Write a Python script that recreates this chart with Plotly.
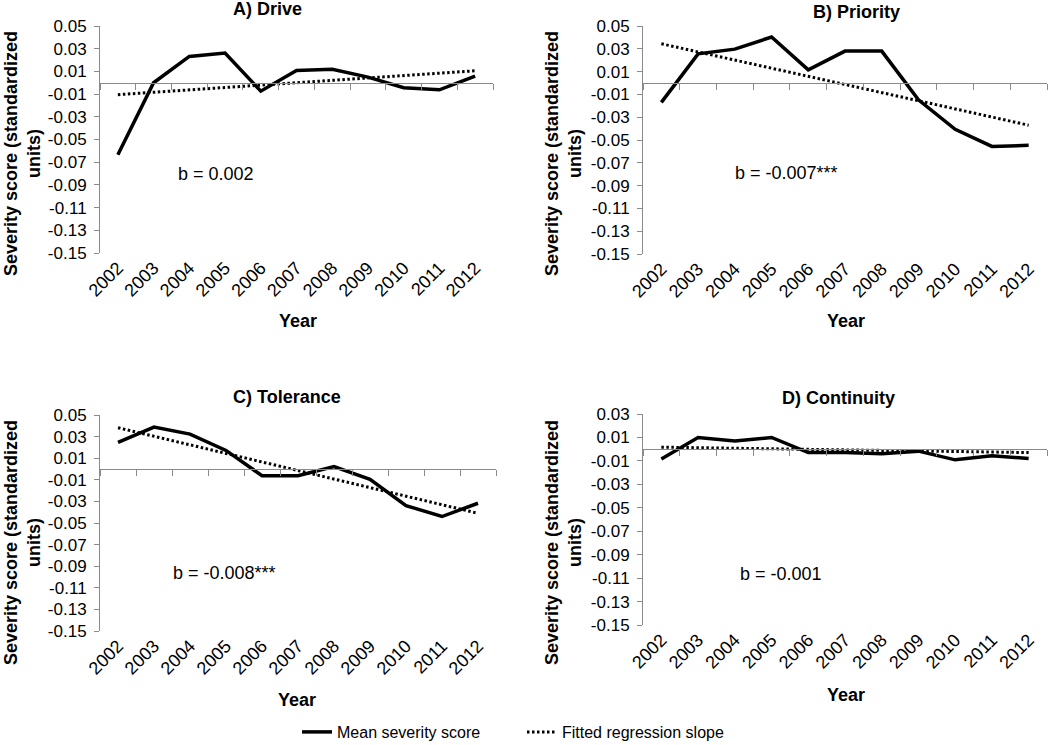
import plotly.graph_objects as go

W, H = 1050, 745

years = [2002, 2003, 2004, 2005, 2006, 2007, 2008, 2009, 2010, 2011, 2012]
year_labels = [str(y) for y in years]

mean_drive = [-0.0635, 0.0000, 0.0232, 0.0262, -0.0074, 0.0109, 0.0118, 0.0050, -0.0044, -0.0062, 0.0059]
mean_priority = [-0.0170, 0.0256, 0.0297, 0.0403, 0.0115, 0.0280, 0.0280, -0.0147, -0.0406, -0.0556, -0.0547]
mean_tolerance = [0.0246, 0.0388, 0.0323, 0.0172, -0.0062, -0.0062, 0.0022, -0.0095, -0.0339, -0.0440, -0.0317]
mean_continuity = [-0.0083, 0.0100, 0.0069, 0.0100, -0.0029, -0.0029, -0.0040, -0.0017, -0.0091, -0.0057, -0.0080]

# fitted regression line values at first and last year
fit_years = [2002, 2012]
fit_drive = [-0.0105, 0.0105]
fit_priority = [0.0344, -0.0370]
fit_tolerance = [0.0382, -0.0410]
fit_continuity = [0.0017, -0.0029]

titles = ["A) Drive", "B) Priority", "C) Tolerance", "D) Continuity"]
slopes = ["b = 0.002", "b = -0.007***", "b = -0.008***", "b = -0.001"]

yticks_full = [0.05, 0.03, 0.01, -0.01, -0.03, -0.05, -0.07, -0.09, -0.11, -0.13, -0.15]
yticks_full_text = ["0.05", "0.03", "0.01", "-0.01", "-0.03", "-0.05", "-0.07", "-0.09", "-0.11", "-0.13", "-0.15"]
yticks_d = [0.03, 0.01, -0.01, -0.03, -0.05, -0.07, -0.09, -0.11, -0.13, -0.15]
yticks_d_text = ["0.03", "0.01", "-0.01", "-0.03", "-0.05", "-0.07", "-0.09", "-0.11", "-0.13", "-0.15"]

FONT = "Liberation Sans, Arial, sans-serif"
GRAY = "#8a8a8a"

def fx(p):
    return p / W

def fy(p):
    return 1 - p / H

panels = [
    dict(x=(100, 493), y=(26, 253), yr=(-0.15, 0.05), tv=yticks_full, tt=yticks_full_text,
         mean=mean_drive, fit=fit_drive, title_pos=(267, 9), b_pos=(216, 174),
         ytitle_pos=(22, 154), year_pos=(298, 321)),
    dict(x=(643, 1047), y=(26, 254), yr=(-0.15, 0.05), tv=yticks_full, tt=yticks_full_text,
         mean=mean_priority, fit=fit_priority, title_pos=(856, 12), b_pos=(786, 173),
         ytitle_pos=(563, 154), year_pos=(846, 321)),
    dict(x=(100, 496), y=(415, 631), yr=(-0.15, 0.05), tv=yticks_full, tt=yticks_full_text,
         mean=mean_tolerance, fit=fit_tolerance, title_pos=(287, 397), b_pos=(224, 573),
         ytitle_pos=(22, 543), year_pos=(297, 700)),
    dict(x=(643, 1047), y=(414, 625), yr=(-0.15, 0.03), tv=yticks_d, tt=yticks_d_text,
         mean=mean_continuity, fit=fit_continuity, title_pos=(838, 398), b_pos=(781, 574),
         ytitle_pos=(563, 543), year_pos=(846, 695)),
]

fig = go.Figure()
layout = dict(
    width=W, height=H,
    margin=dict(l=0, r=0, t=0, b=0, pad=0, autoexpand=False),
    paper_bgcolor="white", plot_bgcolor="white",
    font=dict(family=FONT, size=17, color="black"),
    showlegend=True,
    legend=dict(orientation="h", x=fx(297), xanchor="left", y=fy(732), yanchor="middle",
                font=dict(size=16, family=FONT), entrywidth=180, entrywidthmode="pixels",
                bgcolor="rgba(0,0,0,0)", tracegroupgap=0),
)
annotations = []

xr = (years[0] - 0.5, years[-1] + 0.5)
bounds = [y - 0.5 for y in years] + [years[-1] + 0.5]

for i, p in enumerate(panels):
    n = i + 1
    xa = "x" if n == 1 else f"x{n}"
    ya = "y" if n == 1 else f"y{n}"
    xkey = "xaxis" if n == 1 else f"xaxis{n}"
    ykey = "yaxis" if n == 1 else f"yaxis{n}"
    ydom = [fy(p["y"][1]), fy(p["y"][0])]
    xdom = [fx(p["x"][0]), fx(p["x"][1])]
    zpos = ydom[0] + (0 - p["yr"][0]) / (p["yr"][1] - p["yr"][0]) * (ydom[1] - ydom[0])

    fig.add_trace(go.Scatter(x=years, y=p["mean"], mode="lines", xaxis=xa, yaxis=ya,
                             line=dict(color="black", width=3.5),
                             name="Mean severity score", showlegend=(n == 1),
                             legendrank=1))
    fig.add_trace(go.Scatter(x=fit_years, y=p["fit"], mode="lines", xaxis=xa, yaxis=ya,
                             line=dict(color="black", width=3, dash="2.5px,2.5px"),
                             name="Fitted regression slope", showlegend=(n == 1),
                             legendrank=2))

    # data x axis crossing at zero, tick marks on category boundaries
    layout[xkey] = dict(domain=xdom, anchor="free", position=zpos, range=list(xr),
                        tickmode="array", tickvals=bounds, showticklabels=False,
                        showline=True, linecolor=GRAY, linewidth=1.2, ticks="outside",
                        ticklen=6, tickwidth=1, tickcolor=GRAY, showgrid=False,
                        zeroline=False, side="bottom")
    layout[ykey] = dict(domain=ydom, anchor=xa, range=list(p["yr"]), tickmode="array",
                        tickvals=p["tv"], ticktext=p["tt"], showline=True, linecolor=GRAY,
                        linewidth=1, ticks="outside", ticklen=5, tickcolor=GRAY,
                        ticklabelstandoff=4,
                        showgrid=False, zeroline=False, tickfont=dict(size=17, family=FONT))

    # category labels at the bottom of the plot area
    okey = f"xaxis{n + 4}"
    layout[okey] = dict(overlaying=xa, anchor=ya, range=list(xr), domain=xdom,
                        tickmode="array", tickvals=years, ticktext=year_labels,
                        tickangle=-45, showline=False, ticks="", showgrid=False,
                        zeroline=False, side="bottom", tickfont=dict(size=18, family=FONT))
    fig.add_trace(go.Scatter(x=xr, y=[None, None], xaxis=f"x{n + 4}", yaxis=ya,
                             mode="lines", showlegend=False, hoverinfo="skip"))

    annotations.append(dict(text=f"<b>{titles[i]}</b>", x=fx(p["title_pos"][0]), y=fy(p["title_pos"][1]),
                            xref="paper", yref="paper", showarrow=False, xanchor="center",
                            yanchor="middle", font=dict(size=18, family=FONT)))
    annotations.append(dict(text=slopes[i], x=fx(p["b_pos"][0]), y=fy(p["b_pos"][1]),
                            xref="paper", yref="paper", showarrow=False, xanchor="center",
                            yanchor="middle", font=dict(size=18, family=FONT)))
    annotations.append(dict(text="<b>Severity score (standardized<br>units)</b>",
                            x=fx(p["ytitle_pos"][0]), y=fy(p["ytitle_pos"][1]),
                            xref="paper", yref="paper", showarrow=False, textangle=-90,
                            xanchor="center", yanchor="middle",
                            font=dict(size=18, family=FONT)))
    annotations.append(dict(text="<b>Year</b>", x=fx(p["year_pos"][0]), y=fy(p["year_pos"][1]),
                            xref="paper", yref="paper", showarrow=False, xanchor="center",
                            yanchor="middle", font=dict(size=18, family=FONT)))

layout["annotations"] = annotations
fig.update_layout(**layout)
fig.write_html("out.html",
               config={"displayModeBar": False},
               post_script="document.body.style.margin='0px';document.body.style.overflow='hidden';")
